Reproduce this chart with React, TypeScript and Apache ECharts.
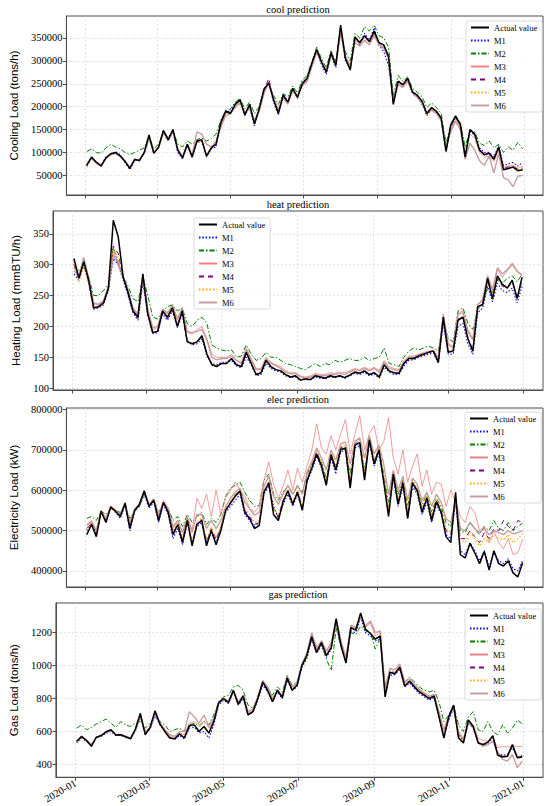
import React, { useEffect, useRef } from "react";
import * as echarts from "echarts";

// ---------- data (sampled every 4 days from 2020-01-02) ----------
const START_DATE = "2020-01-02";
const STEP_DAYS = 4;

const xTickDates = ["2020-01-01", "2020-03-01", "2020-05-01", "2020-07-01", "2020-09-01", "2020-11-01", "2021-01-01"];
const coolTicks = [50000, 100000, 150000, 200000, 250000, 300000, 350000];
const heatTicks = [100, 150, 200, 250, 300, 350];
const elecTicks = [400000, 500000, 600000, 700000, 800000];
const gasTicks = [400, 600, 800, 1000, 1200];

const seriesNames = ["Actual value", "M1", "M2", "M3", "M4", "M5", "M6"];

// cooling
const coolActual = [
  72000, 90000, 78000, 70000, 88000, 97000, 100000, 92000, 80000, 65000,
  85000, 82000, 100000, 138000, 98000, 112000, 148000, 128000, 150000, 105000,
  88000, 118000, 90000, 125000, 128000, 92000, 110000, 118000, 165000, 190000,
  185000, 205000, 215000, 182000, 205000, 162000, 195000, 238000, 252000, 215000,
  185000, 225000, 210000, 240000, 220000, 250000, 262000, 295000, 325000, 298000,
  275000, 318000, 290000, 378000, 305000, 280000, 352000, 340000, 355000, 342000,
  365000, 340000, 335000, 310000, 205000, 255000, 248000, 262000, 232000, 225000,
  212000, 185000, 198000, 190000, 175000, 102000, 160000, 180000, 160000, 90000,
  150000, 140000, 105000, 95000, 98000, 85000, 112000, 62000, 65000, 68000,
  60000, 62000,
];
const coolM1 = [
  70000, 88000, 80000, 72000, 90000, 95000, 102000, 95000, 78000, 63000,
  82000, 85000, 98000, 132000, 100000, 110000, 145000, 125000, 145000, 100000,
  86000, 115000, 88000, 122000, 125000, 90000, 108000, 112000, 170000, 192000,
  188000, 208000, 212000, 180000, 200000, 158000, 198000, 240000, 250000, 210000,
  182000, 228000, 212000, 238000, 218000, 255000, 260000, 290000, 322000, 292000,
  270000, 312000, 285000, 365000, 300000, 285000, 350000, 335000, 360000, 345000,
  372000, 335000, 320000, 290000, 215000, 258000, 245000, 258000, 228000, 222000,
  205000, 180000, 195000, 188000, 170000, 105000, 155000, 175000, 162000, 92000,
  145000, 138000, 110000, 100000, 100000, 90000, 115000, 72000, 75000, 78000,
  70000, 78000,
];
const coolM2 = [
  102000, 108000, 100000, 98000, 110000, 118000, 112000, 108000, 100000, 95000,
  100000, 105000, 110000, 135000, 108000, 118000, 145000, 132000, 148000, 118000,
  112000, 125000, 118000, 128000, 132000, 125000, 130000, 140000, 170000, 190000,
  195000, 210000, 218000, 195000, 210000, 185000, 200000, 238000, 250000, 225000,
  205000, 228000, 222000, 245000, 230000, 258000, 268000, 298000, 330000, 305000,
  285000, 322000, 300000, 365000, 320000, 300000, 360000, 350000, 375000, 365000,
  378000, 355000, 350000, 330000, 225000, 268000, 255000, 265000, 240000, 232000,
  222000, 198000, 208000, 198000, 185000, 120000, 160000, 178000, 165000, 112000,
  148000, 145000, 120000, 115000, 125000, 110000, 118000, 100000, 112000, 105000,
  122000, 108000,
];
const coolM3 = [
  74000, 86000, 76000, 72000, 86000, 95000, 98000, 90000, 82000, 68000,
  84000, 84000, 98000, 135000, 100000, 110000, 145000, 125000, 146000, 108000,
  90000, 115000, 92000, 122000, 125000, 95000, 108000, 120000, 160000, 185000,
  188000, 200000, 212000, 185000, 200000, 165000, 192000, 232000, 248000, 218000,
  190000, 220000, 208000, 235000, 222000, 248000, 258000, 290000, 320000, 295000,
  278000, 312000, 292000, 368000, 308000, 285000, 345000, 338000, 350000, 340000,
  358000, 338000, 330000, 305000, 210000, 250000, 245000, 258000, 230000, 222000,
  210000, 182000, 195000, 186000, 172000, 108000, 150000, 172000, 155000, 95000,
  140000, 132000, 100000, 90000, 92000, 80000, 105000, 68000, 70000, 72000,
  65000, 70000,
];
const coolM4 = [
  72000, 88000, 79000, 71000, 87000, 96000, 99000, 93000, 80000, 66000,
  84000, 83000, 99000, 134000, 99000, 112000, 146000, 127000, 148000, 104000,
  88000, 117000, 91000, 124000, 127000, 93000, 110000, 117000, 163000, 190000,
  186000, 204000, 214000, 183000, 204000, 163000, 196000, 236000, 262000, 214000,
  186000, 224000, 211000, 240000, 221000, 250000, 261000, 294000, 324000, 297000,
  276000, 316000, 292000, 372000, 304000, 282000, 350000, 340000, 354000, 342000,
  362000, 340000, 333000, 308000, 208000, 255000, 248000, 262000, 232000, 225000,
  212000, 186000, 198000, 190000, 176000, 104000, 158000, 178000, 160000, 92000,
  148000, 140000, 106000, 96000, 98000, 86000, 112000, 65000, 68000, 70000,
  63000, 66000,
];
const coolM5 = [
  68000, 88000, 78000, 70000, 87000, 96000, 99000, 92000, 80000, 66000,
  85000, 82000, 100000, 136000, 98000, 112000, 147000, 128000, 149000, 105000,
  88000, 118000, 90000, 124000, 128000, 93000, 110000, 118000, 164000, 189000,
  185000, 205000, 214000, 182000, 205000, 163000, 195000, 237000, 251000, 215000,
  186000, 225000, 210000, 240000, 220000, 250000, 262000, 294000, 324000, 298000,
  276000, 318000, 290000, 375000, 305000, 282000, 350000, 340000, 355000, 342000,
  364000, 340000, 334000, 310000, 207000, 255000, 248000, 262000, 232000, 225000,
  212000, 186000, 198000, 190000, 175000, 104000, 158000, 178000, 160000, 92000,
  148000, 140000, 106000, 96000, 96000, 84000, 110000, 64000, 66000, 68000,
  62000, 64000,
];
const coolM6 = [
  73000, 87000, 80000, 72000, 86000, 95000, 98000, 92000, 82000, 67000,
  84000, 84000, 98000, 130000, 100000, 110000, 142000, 126000, 145000, 108000,
  92000, 118000, 95000, 145000, 140000, 118000, 112000, 125000, 155000, 180000,
  185000, 198000, 208000, 188000, 198000, 170000, 190000, 228000, 255000, 218000,
  195000, 218000, 205000, 235000, 225000, 245000, 255000, 288000, 318000, 295000,
  280000, 310000, 295000, 360000, 310000, 290000, 340000, 332000, 345000, 335000,
  355000, 335000, 328000, 305000, 215000, 248000, 242000, 255000, 230000, 220000,
  208000, 185000, 192000, 185000, 170000, 112000, 145000, 168000, 150000, 85000,
  120000, 105000, 82000, 72000, 92000, 55000, 98000, 45000, 40000, 25000,
  48000, 50000,
];

// heating
const heatActual = [
  310, 278, 305, 275, 230, 232, 238, 262, 372, 345,
  280, 255, 225, 215, 285, 220, 190, 192, 225, 215,
  230, 200, 225, 175, 172, 175, 185, 155, 138, 135,
  140, 140, 148, 138, 135, 158, 140, 122, 125, 145,
  135, 130, 128, 122, 118, 120, 113, 115, 114, 120,
  118, 116, 120, 118, 120, 117, 121, 126, 124, 128,
  122, 125, 118, 138, 128, 125, 124, 140, 148, 148,
  152, 155, 158, 160, 142, 215, 158, 160, 210, 215,
  180, 160, 232, 235, 278, 245, 282, 268, 262, 275,
  245, 280,
];
const heatM1 = [
  285, 275, 300, 270, 228, 230, 235, 258, 310, 300,
  275, 250, 222, 210, 270, 218, 188, 190, 220, 210,
  225, 198, 220, 178, 170, 172, 180, 152, 140, 138,
  142, 142, 145, 136, 133, 150, 138, 120, 122, 140,
  132, 128, 126, 120, 117, 118, 112, 114, 113, 118,
  116, 115, 118, 117, 119, 116, 120, 124, 122, 126,
  120, 123, 116, 134, 126, 122, 122, 136, 145, 146,
  150, 152, 155, 157, 140, 205, 155, 155, 200, 205,
  172, 155, 222, 230, 265, 240, 270, 258, 255, 262,
  238, 265,
];
const heatM2 = [
  300, 290, 295, 280, 250, 250, 258, 268, 330, 300,
  280, 265, 245, 240, 280, 250, 215, 212, 225, 232,
  235, 225, 230, 205, 200, 210, 215, 205, 170, 165,
  162, 160, 162, 150, 152, 170, 155, 145, 148, 158,
  150, 150, 145, 140, 138, 135, 132, 130, 135, 140,
  135, 140, 138, 145, 142, 145, 148, 145, 145, 150,
  145, 148, 150, 165, 140, 138, 135, 150, 160, 165,
  162, 165, 168, 165, 160, 210, 180, 175, 225, 230,
  205, 195, 228, 238, 262, 255, 275, 270, 278, 282,
  272, 285,
];
const heatM3 = [
  295, 280, 310, 275, 235, 235, 240, 265, 320, 305,
  282, 258, 228, 218, 280, 225, 195, 198, 225, 220,
  232, 210, 228, 190, 188, 195, 200, 180, 155, 150,
  150, 150, 155, 145, 142, 165, 148, 132, 132, 150,
  142, 138, 135, 128, 125, 125, 120, 118, 120, 124,
  122, 122, 125, 124, 126, 125, 128, 132, 130, 134,
  130, 134, 128, 145, 135, 132, 130, 145, 152, 152,
  155, 158, 160, 162, 150, 220, 172, 168, 222, 225,
  195, 180, 235, 245, 280, 258, 292, 280, 290, 300,
  288, 285,
];
const heatM4 = [
  300, 276, 302, 272, 230, 232, 236, 260, 330, 318,
  278, 252, 224, 212, 278, 220, 190, 192, 222, 212,
  228, 200, 225, 176, 172, 175, 184, 155, 138, 136,
  140, 140, 148, 138, 135, 156, 140, 122, 124, 144,
  134, 130, 128, 122, 118, 120, 114, 115, 114, 119,
  118, 117, 120, 118, 120, 118, 121, 125, 124, 128,
  122, 125, 119, 137, 128, 125, 124, 140, 148, 148,
  152, 155, 158, 160, 143, 212, 160, 160, 212, 215,
  182, 162, 232, 236, 275, 245, 278, 265, 262, 272,
  245, 275,
];
const heatM5 = [
  305, 272, 298, 270, 232, 232, 238, 262, 325, 310,
  280, 255, 225, 215, 280, 222, 190, 192, 224, 214,
  230, 200, 226, 176, 172, 176, 185, 156, 140, 136,
  140, 141, 148, 138, 136, 158, 140, 123, 125, 144,
  135, 130, 128, 122, 118, 120, 112, 114, 114, 120,
  118, 116, 120, 118, 120, 117, 121, 126, 124, 128,
  122, 125, 118, 138, 128, 125, 124, 140, 148, 148,
  152, 155, 158, 160, 142, 215, 160, 160, 212, 216,
  182, 162, 232, 236, 276, 246, 280, 268, 264, 275,
  248, 278,
];
const heatM6 = [
  290, 282, 312, 278, 238, 236, 242, 265, 315, 302,
  280, 258, 230, 220, 282, 228, 198, 200, 228, 222,
  235, 212, 230, 192, 190, 192, 195, 178, 150, 146,
  148, 148, 152, 145, 140, 162, 146, 130, 130, 148,
  140, 136, 132, 126, 123, 124, 118, 116, 118, 122,
  120, 120, 122, 122, 124, 122, 126, 130, 128, 132,
  128, 132, 126, 142, 132, 130, 128, 142, 150, 150,
  154, 156, 158, 160, 148, 218, 170, 165, 220, 222,
  192, 178, 235, 242, 282, 260, 295, 285, 292, 302,
  290, 282,
];

// electricity
const elecActual = [
  490000, 515000, 485000, 548000, 520000, 558000, 548000, 535000, 568000, 505000,
  550000, 565000, 598000, 560000, 575000, 525000, 570000, 545000, 490000, 515000,
  470000, 525000, 462000, 515000, 525000, 462000, 500000, 465000, 500000, 550000,
  568000, 585000, 598000, 545000, 530000, 505000, 512000, 595000, 618000, 540000,
  525000, 572000, 598000, 565000, 595000, 550000, 625000, 655000, 690000, 660000,
  612000, 688000, 650000, 700000, 705000, 605000, 712000, 718000, 625000, 725000,
  665000, 700000, 620000, 535000, 640000, 565000, 618000, 530000, 618000, 598000,
  545000, 580000, 525000, 572000, 545000, 485000, 470000, 595000, 440000, 432000,
  468000, 445000, 418000, 448000, 402000, 450000, 418000, 412000, 425000, 395000,
  385000, 420000,
];
const elecM1 = [
  500000, 520000, 490000, 545000, 525000, 560000, 545000, 530000, 565000, 500000,
  548000, 560000, 590000, 555000, 570000, 520000, 565000, 540000, 480000, 505000,
  465000, 520000, 470000, 510000, 520000, 470000, 495000, 475000, 505000, 545000,
  560000, 575000, 590000, 540000, 525000, 510000, 520000, 590000, 610000, 560000,
  530000, 565000, 590000, 560000, 590000, 555000, 620000, 650000, 685000, 655000,
  615000, 680000, 640000, 695000, 700000, 610000, 705000, 710000, 640000, 718000,
  660000, 690000, 625000, 545000, 630000, 560000, 610000, 530000, 610000, 590000,
  540000, 570000, 520000, 565000, 540000, 490000, 480000, 570000, 450000, 440000,
  470000, 450000, 425000, 450000, 410000, 445000, 425000, 418000, 430000, 405000,
  400000, 425000,
];
const elecM2 = [
  530000, 535000, 525000, 548000, 540000, 555000, 550000, 545000, 560000, 530000,
  548000, 560000, 590000, 565000, 575000, 545000, 565000, 555000, 525000, 535000,
  510000, 540000, 520000, 535000, 545000, 515000, 530000, 520000, 540000, 585000,
  605000, 612000, 620000, 595000, 575000, 560000, 562000, 625000, 640000, 590000,
  575000, 595000, 610000, 590000, 610000, 595000, 640000, 665000, 690000, 670000,
  630000, 690000, 660000, 705000, 700000, 640000, 712000, 715000, 650000, 720000,
  675000, 700000, 640000, 570000, 640000, 590000, 625000, 560000, 620000, 605000,
  565000, 590000, 545000, 580000, 560000, 520000, 510000, 575000, 500000, 495000,
  520000, 505000, 490000, 510000, 500000, 525000, 505000, 500000, 520000, 500000,
  510000, 518000,
];
const elecM3 = [
  510000, 525000, 500000, 550000, 530000, 562000, 552000, 540000, 570000, 515000,
  555000, 568000, 600000, 565000, 580000, 535000, 575000, 555000, 505000, 525000,
  495000, 535000, 500000, 580000, 555000, 590000, 535000, 600000, 540000, 580000,
  600000, 620000, 600000, 585000, 555000, 545000, 560000, 625000, 670000, 615000,
  580000, 610000, 650000, 600000, 655000, 620000, 660000, 700000, 765000, 705000,
  690000, 735000, 700000, 740000, 775000, 690000, 740000, 785000, 700000, 740000,
  760000, 700000, 720000, 780000, 680000, 640000, 700000, 620000, 660000, 690000,
  610000, 650000, 590000, 620000, 615000, 560000, 600000, 570000, 535000, 520000,
  560000, 545000, 500000, 510000, 470000, 500000, 470000, 455000, 480000, 440000,
  445000, 478000,
];
const elecM4 = [
  505000, 518000, 490000, 545000, 525000, 556000, 548000, 535000, 566000, 510000,
  550000, 562000, 595000, 560000, 574000, 528000, 568000, 546000, 495000, 515000,
  478000, 525000, 470000, 518000, 528000, 472000, 505000, 478000, 508000, 552000,
  570000, 588000, 600000, 550000, 535000, 515000, 520000, 598000, 620000, 550000,
  535000, 575000, 600000, 568000, 598000, 558000, 628000, 660000, 695000, 665000,
  620000, 690000, 655000, 705000, 710000, 620000, 715000, 722000, 640000, 730000,
  670000, 702000, 630000, 548000, 640000, 572000, 620000, 540000, 620000, 600000,
  552000, 582000, 530000, 575000, 550000, 500000, 490000, 585000, 480000, 480000,
  500000, 485000, 470000, 495000, 480000, 505000, 500000, 525000, 510000, 500000,
  525000, 520000,
];
const elecM5 = [
  500000, 520000, 492000, 550000, 528000, 560000, 552000, 538000, 570000, 512000,
  552000, 566000, 598000, 562000, 578000, 530000, 570000, 550000, 500000, 520000,
  480000, 528000, 475000, 520000, 530000, 478000, 508000, 482000, 512000, 555000,
  572000, 590000, 602000, 555000, 540000, 520000, 525000, 600000, 622000, 555000,
  540000, 578000, 602000, 572000, 600000, 562000, 630000, 662000, 700000, 668000,
  625000, 695000, 660000, 708000, 712000, 625000, 718000, 725000, 645000, 732000,
  675000, 705000, 635000, 555000, 645000, 578000, 625000, 548000, 625000, 605000,
  560000, 588000, 538000, 580000, 555000, 505000, 495000, 580000, 480000, 470000,
  495000, 478000, 462000, 480000, 470000, 490000, 480000, 478000, 490000, 470000,
  480000, 492000,
];
const elecM6 = [
  515000, 522000, 500000, 548000, 530000, 558000, 550000, 540000, 568000, 520000,
  552000, 565000, 595000, 565000, 578000, 538000, 570000, 555000, 510000, 525000,
  495000, 532000, 495000, 540000, 540000, 505000, 525000, 505000, 525000, 560000,
  580000, 595000, 605000, 570000, 555000, 538000, 545000, 610000, 635000, 585000,
  565000, 590000, 612000, 590000, 612000, 590000, 645000, 672000, 705000, 680000,
  650000, 700000, 675000, 715000, 720000, 665000, 722000, 730000, 680000, 735000,
  690000, 712000, 665000, 590000, 650000, 600000, 635000, 575000, 630000, 615000,
  575000, 595000, 560000, 590000, 570000, 530000, 520000, 575000, 505000, 500000,
  520000, 505000, 495000, 505000, 490000, 500000, 495000, 490000, 500000, 492000,
  495000, 500000,
];

// gas
const gasActual = [
  540, 570, 545, 510, 565, 575, 598, 610, 578, 580,
  568, 555, 615, 710, 580, 625, 725, 645, 600, 560,
  555, 585, 560, 635, 640, 600, 630, 590, 660, 775,
  800, 775, 850, 765, 815, 700, 720, 800, 900, 850,
  780, 850, 805, 925, 850, 880, 1000, 1060, 1175, 1080,
  1140, 1060, 1110, 1285, 1120, 1015, 1230, 1215, 1320, 1220,
  1195, 1160, 1180, 810, 960, 950, 990, 875, 905, 870,
  840, 820, 800, 815, 690, 560, 690, 760, 560, 530,
  670, 630, 530, 520, 535, 575, 455, 445, 450, 520,
  440, 445,
];
const gasM1 = [
  530, 560, 540, 515, 560, 570, 590, 600, 575, 575,
  565, 555, 605, 690, 590, 615, 700, 640, 600, 565,
  550, 575, 555, 620, 625, 590, 600, 560, 640, 760,
  790, 770, 840, 760, 800, 700, 715, 790, 880, 840,
  780, 840, 800, 910, 850, 870, 990, 1040, 1160, 1075,
  1120, 1050, 1100, 1260, 1110, 1020, 1210, 1200, 1290, 1200,
  1180, 1150, 1160, 850, 940, 945, 975, 870, 895, 860,
  830, 810, 790, 805, 690, 580, 670, 740, 580, 540,
  650, 620, 530, 515, 530, 560, 470, 455, 460, 500,
  445, 455,
];
const gasM2 = [
  620, 640, 610, 625, 645, 660, 675, 650, 625, 660,
  640, 630, 650, 660, 620, 650, 690, 660, 640, 600,
  610, 620, 600, 640, 650, 630, 660, 640, 700, 780,
  810, 820, 870, 880, 850, 760, 740, 810, 900, 870,
  820, 870, 840, 940, 880, 900, 1000, 1050, 1160, 1090,
  1130, 1040, 970, 1230, 1110, 1060, 1200, 1190, 1240, 1210,
  1200, 1100, 1170, 880, 960, 960, 990, 900, 930, 900,
  870, 850, 840, 850, 780, 660, 700, 760, 640, 600,
  690, 720, 610, 600, 660, 600, 580, 640, 590, 620,
  670, 645,
];
const gasM3 = [
  530, 565, 545, 520, 560, 575, 595, 605, 580, 580,
  570, 560, 610, 695, 600, 625, 715, 650, 610, 575,
  560, 590, 580, 650, 660, 640, 660, 620, 670, 775,
  800, 785, 850, 775, 820, 710, 730, 810, 905, 860,
  790, 855, 815, 930, 860, 890, 1010, 1070, 1190, 1100,
  1150, 1080, 1130, 1270, 1140, 1040, 1240, 1225, 1300, 1230,
  1260, 1180, 1200, 850, 980, 960, 1000, 890, 910, 880,
  850, 830, 810, 820, 710, 600, 690, 740, 600, 560,
  660, 640, 560, 545, 540, 560, 500, 510, 505, 515,
  508, 510,
];
const gasM4 = [
  535, 568, 545, 512, 562, 574, 596, 608, 578, 580,
  568, 556, 612, 705, 585, 624, 720, 645, 602, 562,
  556, 585, 562, 635, 640, 602, 628, 592, 660, 772,
  798, 775, 848, 766, 812, 702, 722, 800, 898, 850,
  782, 850, 806, 922, 852, 880, 1000, 1058, 1172, 1082,
  1138, 1062, 1108, 1275, 1122, 1020, 1228, 1215, 1310, 1220,
  1195, 1160, 1178, 820, 958, 950, 988, 876, 905, 870,
  840, 820, 800, 815, 692, 565, 688, 758, 565, 532,
  668, 630, 532, 522, 535, 572, 460, 450, 452, 515,
  445, 448,
];
const gasM5 = [
  538, 566, 544, 514, 563, 575, 597, 606, 578, 579,
  567, 557, 613, 702, 588, 622, 718, 646, 603, 564,
  557, 584, 563, 634, 641, 603, 630, 593, 662, 770,
  796, 776, 846, 768, 810, 704, 724, 798, 895, 852,
  784, 848, 808, 920, 853, 882, 998, 1056, 1170, 1084,
  1136, 1064, 1106, 1272, 1124, 1022, 1226, 1214, 1305, 1222,
  1196, 1162, 1176, 825, 956, 952, 986, 878, 904, 872,
  842, 822, 802, 814, 694, 568, 686, 756, 568, 534,
  665, 628, 534, 524, 536, 570, 462, 452, 455, 512,
  448, 450,
];
const gasM6 = [
  535, 565, 548, 520, 562, 575, 595, 604, 582, 582,
  570, 562, 608, 690, 600, 625, 705, 650, 612, 580,
  570, 600, 600, 720, 690, 650, 700, 630, 680, 770,
  795, 785, 845, 780, 820, 720, 735, 810, 910, 870,
  800, 850, 820, 935, 870, 895, 1010, 1075, 1200, 1110,
  1150, 1090, 1140, 1280, 1150, 1050, 1245, 1230, 1295, 1240,
  1270, 1200, 1210, 860, 985, 975, 1010, 900, 920, 885,
  855, 835, 815, 825, 720, 610, 695, 735, 590, 550,
  650, 625, 540, 510, 520, 540, 470, 430, 420, 460,
  380, 420,
];

// ---------- helpers ----------
function toTime(s: string): number {
  const [y, m, d] = s.split("-").map(Number);
  return new Date(y, m - 1, d).getTime();
}
function sampleDates(n: number): number[] {
  const [y, m, d] = START_DATE.split("-").map(Number);
  const out: number[] = [];
  for (let i = 0; i < n; i++) out.push(new Date(y, m - 1, d + i * STEP_DAYS).getTime());
  return out;
}
function fmtMonth(v: number): string {
  const d = new Date(v);
  return d.getFullYear() + "-" + String(d.getMonth() + 1).padStart(2, "0");
}

const lineStyles = [
  { color: "#000000", width: 1.5, type: "solid" as any, opacity: 1 },
  { color: "#0000ff", width: 1.1, type: [1.5, 1.8] as any, opacity: 1 },
  { color: "#008000", width: 1.0, type: [5, 2, 1.5, 2] as any, opacity: 1 },
  { color: "#f08080", width: 0.8, type: "solid" as any, opacity: 1 },
  { color: "#800080", width: 1.0, type: [5, 4] as any, opacity: 1 },
  { color: "#ffa500", width: 1.2, type: [1.5, 2] as any, opacity: 1 },
  { color: "#bc8f8f", width: 1.4, type: "solid" as any, opacity: 0.85 },
];

const panels = [
  {
    title: "cool prediction", yName: "Cooling Load (tons/h)", ticks: coolTicks,
    min: 7000, max: 398000, series: [coolActual, coolM1, coolM2, coolM3, coolM4, coolM5, coolM6],
    top: 16, height: 179, titleTop: 4, nameGap: 37, legendLeft: 466, legendTop: 21,
  },
  {
    title: "heat prediction", yName: "Heating Load (mmBTU/h)", ticks: heatTicks,
    min: 97, max: 387, series: [heatActual, heatM1, heatM2, heatM3, heatM4, heatM5, heatM6],
    top: 211, height: 179, titleTop: 199, nameGap: 21, legendLeft: 194, legendTop: 218,
  },
  {
    title: "elec prediction", yName: "Electricity Load (kW)", ticks: elecTicks,
    min: 360000, max: 804000, series: [elecActual, elecM1, elecM2, elecM3, elecM4, elecM5, elecM6],
    top: 408, height: 179, titleTop: 394, nameGap: 37, legendLeft: 465, legendTop: 412,
  },
  {
    title: "gas prediction", yName: "Gas Load (tons/h)", ticks: gasTicks,
    min: 322, max: 1380, series: [gasActual, gasM1, gasM2, gasM3, gasM4, gasM5, gasM6],
    top: 603, height: 181, titleTop: 589, nameGap: 27, legendLeft: 465, legendTop: 609,
  },
];

const SERIF = "'Liberation Serif', 'Times New Roman', serif";
const SANS = "'Liberation Sans', Arial, sans-serif";
const FRAME = "#4d4d4d";

function buildOption() {
  const dates = sampleDates(coolActual.length);
  const xTicks = xTickDates.map(toTime);
  const xMin = toTime("2019-12-16");
  const xMax = toTime("2021-01-17");

  const grid: any[] = [];
  const xAxis: any[] = [];
  const yAxis: any[] = [];
  const title: any[] = [];
  const legend: any[] = [];
  const series: any[] = [];

  panels.forEach((p, gi) => {
    grid.push({
      left: 53, top: p.top, width: 490, height: p.height,
      show: true, borderColor: FRAME, borderWidth: 1, backgroundColor: "transparent",
    });
    xAxis.push({
      type: "value", gridIndex: gi, min: xMin, max: xMax, scale: true,
      axisLine: { show: true, onZero: false, lineStyle: { color: FRAME, width: 1 } },
      axisTick: { show: true, inside: false, length: 3.5, customValues: xTicks, lineStyle: { color: FRAME } },
      axisLabel: {
        show: gi === panels.length - 1, customValues: xTicks, rotate: 30, margin: 5,
        formatter: (v: number) => fmtMonth(v), fontFamily: SERIF, fontSize: 10.5, color: "#000",
        hideOverlap: false,
      },
      splitLine: { show: true, lineStyle: { color: "#d4d4d4", width: 0.7, type: [2, 2] } },
    });
    yAxis.push({
      type: "value", gridIndex: gi, min: p.min, max: p.max,
      name: p.yName, nameLocation: "middle", nameGap: p.nameGap, nameRotate: 90,
      nameTextStyle: { fontFamily: SANS, fontSize: 11.5, color: "#000" },
      axisLine: { show: true, onZero: false, lineStyle: { color: FRAME, width: 1 } },
      axisTick: { show: true, inside: false, length: 3.5, customValues: p.ticks, lineStyle: { color: FRAME } },
      axisLabel: {
        customValues: p.ticks, fontFamily: SERIF, fontSize: 10.5, color: "#000", margin: 4,
        formatter: (v: number) => String(v),
      },
      splitLine: { show: true, lineStyle: { color: "#d4d4d4", width: 0.7, type: [2, 2] } },
    });
    title.push({
      text: p.title, left: 298, top: p.titleTop, textAlign: "center", padding: 0,
      textStyle: { fontFamily: SERIF, fontSize: 10.5, fontWeight: "normal", color: "#000" },
    });
    legend.push({
      orient: "vertical", left: p.legendLeft, top: p.legendTop,
      data: seriesNames, itemWidth: 18, itemHeight: 8, itemGap: 4,
      padding: [2, 5, 2, 4], backgroundColor: "rgba(255,255,255,0.85)",
      borderColor: "#d0d0d0", borderWidth: 0.8, borderRadius: 2,
      itemStyle: { opacity: 0 },
      textStyle: { fontFamily: SERIF, fontSize: 8.5, color: "#000" },
      selectedMode: false,
    });
    const order = [1, 2, 3, 4, 5, 6, 0];
    order.forEach((si) => {
      const vals = p.series[si];
      const ls = lineStyles[si];
      series.push({
        type: "line", name: seriesNames[si], xAxisIndex: gi, yAxisIndex: gi,
        data: vals.map((v, i) => [dates[i], v]),
        showSymbol: false, symbol: "none", silent: true,
        lineStyle: { color: ls.color, width: ls.width, type: ls.type, opacity: ls.opacity },
        itemStyle: { color: ls.color },
        z: si === 0 ? 4 : 3,
      });
    });
  });

  return { animation: false, backgroundColor: "#ffffff", grid, xAxis, yAxis, title, legend, series };
}

export default function App() {
  const ref = useRef<HTMLDivElement>(null);
  useEffect(() => {
    if (!ref.current) return;
    const chart = echarts.init(ref.current, undefined, { renderer: "svg" });
    chart.setOption(buildOption() as any);
    return () => chart.dispose();
  }, []);
  return (
    <div
      ref={ref}
      style={{ position: "absolute", left: 0, top: 0, width: 550, height: 806, background: "#fff" }}
    />
  );
}
